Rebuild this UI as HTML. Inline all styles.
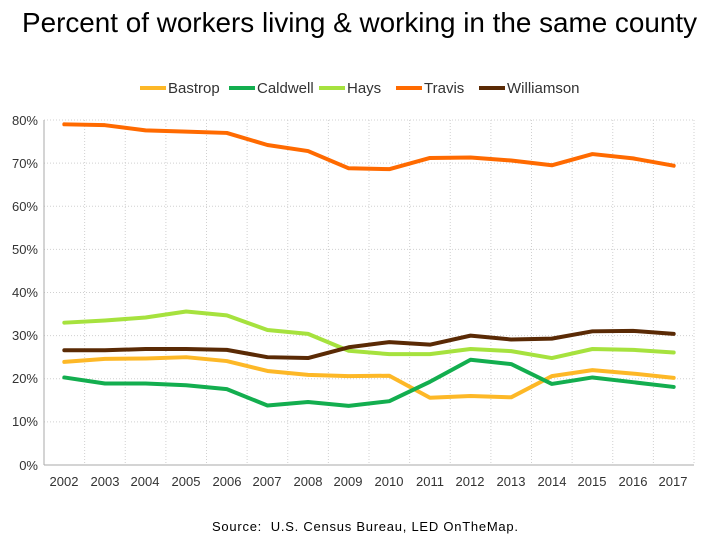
<!DOCTYPE html>
<html><head><meta charset="utf-8"><style>
body{margin:0;background:#fff;width:720px;height:540px;overflow:hidden;font-family:"Liberation Sans",Arial,sans-serif}
</style></head><body>
<svg id="s" width="720" height="540" xmlns="http://www.w3.org/2000/svg" font-family="Liberation Sans, Arial, sans-serif">
<text x="22" y="32" font-size="28" textLength="675" lengthAdjust="spacingAndGlyphs" fill="#000">Percent of workers living &amp; working in the same county</text>
<g font-size="15" fill="#333">
<line x1="140" y1="88" x2="166" y2="88" stroke="#FDB827" stroke-width="4"/><text x="168" y="93">Bastrop</text>
<line x1="229" y1="88" x2="255" y2="88" stroke="#13AE4F" stroke-width="4"/><text x="257" y="93">Caldwell</text>
<line x1="319" y1="88" x2="345" y2="88" stroke="#A6E23E" stroke-width="4"/><text x="347" y="93">Hays</text>
<line x1="396" y1="88" x2="422" y2="88" stroke="#FF6A00" stroke-width="4"/><text x="424" y="93">Travis</text>
<line x1="479" y1="88" x2="505" y2="88" stroke="#5A2A05" stroke-width="4"/><text x="507" y="93">Williamson</text>
</g>
<g id="grid" stroke="#d0d0d0" stroke-width="1" stroke-dasharray="1,2"></g>
<line x1="44" y1="120" x2="44" y2="465" stroke="#aaa"/>
<line x1="44" y1="465" x2="694" y2="465" stroke="#aaa"/>
<g font-size="13" fill="#333" text-anchor="end">
<text x="38" y="125">80%</text><text x="38" y="168">70%</text><text x="38" y="211">60%</text><text x="38" y="254">50%</text><text x="38" y="297">40%</text><text x="38" y="340">30%</text><text x="38" y="383">20%</text><text x="38" y="426">10%</text><text x="38" y="470">0%</text>
</g>
<g font-size="13" fill="#333" text-anchor="middle">
<text x="64" y="486">2002</text><text x="105" y="486">2003</text><text x="145" y="486">2004</text><text x="186" y="486">2005</text><text x="227" y="486">2006</text><text x="267" y="486">2007</text><text x="308" y="486">2008</text><text x="348" y="486">2009</text><text x="389" y="486">2010</text><text x="430" y="486">2011</text><text x="470" y="486">2012</text><text x="511" y="486">2013</text><text x="552" y="486">2014</text><text x="592" y="486">2015</text><text x="633" y="486">2016</text><text x="673" y="486">2017</text>
</g>
<g id="lines" fill="none" stroke-width="4" stroke-linejoin="round" stroke-linecap="round"></g>
<text x="212" y="531" font-size="13" textLength="306" fill="#000" style="white-space:pre">Source:  U.S. Census Bureau, LED OnTheMap.</text>
</svg>
<script>
var ns="http://www.w3.org/2000/svg",g=document.getElementById("grid"),L=document.getElementById("lines");
function el(p,a){var e=document.createElementNS(ns,"line");for(var k in a)e.setAttribute(k,a[k]);p.appendChild(e);}
for(var i=0;i<8;i++){var y=120+i*43.125;el(g,{x1:44,y1:y,x2:694,y2:y});}
for(var i=1;i<=16;i++){var x=44+i*40.625;el(g,{x1:x,y1:120,x2:x,y2:465});}
var D=[
["#FDB827",[23.9,24.6,24.7,25,24.1,21.8,20.9,20.6,20.7,15.6,16,15.7,20.6,22,21.2,20.2]],
["#13AE4F",[20.3,18.9,18.9,18.5,17.6,13.8,14.6,13.7,14.8,19.3,24.4,23.4,18.8,20.3,19.2,18.1]],
["#A6E23E",[33,33.5,34.2,35.6,34.7,31.3,30.4,26.5,25.7,25.7,26.9,26.4,24.8,26.9,26.7,26.1]],
["#FF6A00",[79,78.8,77.6,77.3,77,74.2,72.8,68.8,68.6,71.2,71.3,70.6,69.5,72.1,71.1,69.4]],
["#5A2A05",[26.6,26.6,26.9,26.9,26.7,25,24.8,27.3,28.5,27.9,30,29.1,29.3,31,31.1,30.4]]];
D.forEach(function(s){var p=document.createElementNS(ns,"polyline");
p.setAttribute("points",s[1].map(function(v,i){return (44+40.625*(i+0.5))+","+(465-v*4.3125)}).join(" "));
p.setAttribute("stroke",s[0]);L.appendChild(p);});
</script>
</body></html>
